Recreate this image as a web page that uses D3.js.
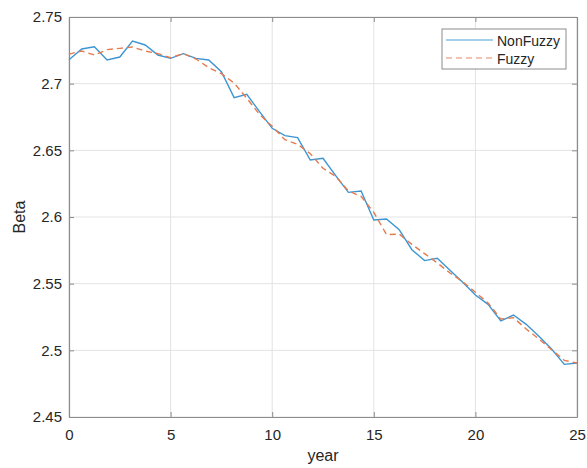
<!DOCTYPE html>
<html>
<head>
<meta charset="utf-8">
<script src="https://cdn.jsdelivr.net/npm/d3@7"></script>
<style>
  body { margin: 0; background: #fff; }
  svg { display: block; font-family: "Liberation Sans", Arial, sans-serif; }
</style>
</head>
<body>
<svg id="chart" width="587" height="468"></svg>
<script>
const years = [0, 0.625, 1.25, 1.875, 2.5, 3.125, 3.75, 4.375, 5, 5.625, 6.25, 6.875, 7.5, 8.125, 8.75, 9.375, 10, 10.625, 11.25, 11.875, 12.5, 13.125, 13.75, 14.375, 15, 15.625, 16.25, 16.875, 17.5, 18.125, 18.75, 19.375, 20, 20.625, 21.25, 21.875, 22.5, 23.125, 23.75, 24.375, 25];
const nonFuzzy = [2.718, 2.726, 2.7277, 2.7178, 2.720, 2.732, 2.729, 2.7215, 2.719, 2.7225, 2.719, 2.7178, 2.709, 2.6895, 2.692, 2.679, 2.6665, 2.661, 2.6595, 2.6427, 2.644, 2.631, 2.6185, 2.6195, 2.5977, 2.5985, 2.5905, 2.5755, 2.5673, 2.569, 2.560, 2.551, 2.5415, 2.5345, 2.522, 2.5265, 2.5195, 2.5105, 2.501, 2.4895, 2.4905];
const fuzzy = [2.7222, 2.7245, 2.7215, 2.7255, 2.7265, 2.7275, 2.7245, 2.7225, 2.7195, 2.7225, 2.7185, 2.712, 2.7075, 2.7005, 2.689, 2.677, 2.668, 2.658, 2.6545, 2.6475, 2.6365, 2.6305, 2.6195, 2.6155, 2.6035, 2.5868, 2.5872, 2.5795, 2.5725, 2.5655, 2.558, 2.5515, 2.5435, 2.5355, 2.5235, 2.5245, 2.516, 2.5085, 2.5005, 2.4925, 2.4905];
const xTicks = [0, 5, 10, 15, 20, 25];
const yTicks = [2.45, 2.5, 2.55, 2.6, 2.65, 2.7, 2.75];
const seriesNames = ["NonFuzzy", "Fuzzy"];

const svg = d3.select("#chart");
const L = 69, R = 577, T = 17, B = 417;
const x = d3.scaleLinear().domain([0, 25]).range([L, R]);
const y = d3.scaleLinear().domain([2.45, 2.75]).range([B, T]);
const textColor = "#262626";
const axisColor = "#8c8c8c";

// grid
const grid = svg.append("g");
grid.selectAll("line.vx").data(xTicks).join("line")
  .attr("x1", d => x(d)).attr("x2", d => x(d)).attr("y1", T).attr("y2", B)
  .attr("stroke", "#e3e3e3").attr("stroke-width", 1);
grid.selectAll("line.hy").data(yTicks).join("line")
  .attr("y1", d => y(d)).attr("y2", d => y(d)).attr("x1", L).attr("x2", R)
  .attr("stroke", "#e3e3e3").attr("stroke-width", 1);

// axes
const fmtY = d => d3.format("")(+d.toFixed(2));
const xAxisB = d3.axisBottom(x).tickValues(xTicks).tickSizeInner(-5).tickSizeOuter(0).tickPadding(12);
const xAxisT = d3.axisTop(x).tickValues(xTicks).tickSizeInner(-5).tickSizeOuter(0).tickFormat("");
const yAxisL = d3.axisLeft(y).tickValues(yTicks).tickSizeInner(-5).tickSizeOuter(0).tickPadding(7).tickFormat(fmtY);
const yAxisR = d3.axisRight(y).tickValues(yTicks).tickSizeInner(-5).tickSizeOuter(0).tickFormat("");

function styleAxis(g) {
  g.select(".domain").attr("stroke", axisColor).attr("stroke-width", 1.2);
  g.selectAll(".tick line").attr("stroke", axisColor);
  g.selectAll(".tick text").attr("fill", textColor).attr("font-size", 15)
    .attr("font-family", "'Liberation Sans', Arial, sans-serif");
}
svg.append("g").attr("transform", `translate(0,${B})`).call(xAxisB).call(styleAxis);
svg.append("g").attr("transform", `translate(0,${T})`).call(xAxisT).call(styleAxis);
svg.append("g").attr("transform", `translate(${L},0)`).call(yAxisL).call(styleAxis);
svg.append("g").attr("transform", `translate(${R},0)`).call(yAxisR).call(styleAxis);

// lines
const line = d3.line().x((d, i) => x(years[i])).y(d => y(d));
svg.append("path").datum(nonFuzzy).attr("d", line)
  .attr("fill", "none").attr("stroke", "#3d96d3").attr("stroke-width", 1.4);
svg.append("path").datum(fuzzy).attr("d", line)
  .attr("fill", "none").attr("stroke", "#e47a4e").attr("stroke-width", 1.4)
  .attr("stroke-dasharray", "6,4");

// labels
svg.append("text").attr("x", (L + R) / 2).attr("y", 461).attr("text-anchor", "middle")
  .attr("fill", textColor).attr("font-size", 16).text("year");
svg.append("text").attr("transform", `translate(25,${(T + B) / 2}) rotate(-90)`)
  .attr("text-anchor", "middle").attr("fill", textColor).attr("font-size", 16).text("Beta");

// legend
const lg = svg.append("g");
lg.append("rect").attr("x", 442).attr("y", 29).attr("width", 124).attr("height", 40)
  .attr("fill", "#fff").attr("stroke", "#8c8c8c").attr("stroke-width", 1);
const legColors = ["#4a9fd6", "#e48a66"];
const legDash = [null, "6,4"];
seriesNames.forEach((name, i) => {
  const yy = 40 + i * 18;
  lg.append("line").attr("x1", 446).attr("x2", 493).attr("y1", yy).attr("y2", yy)
    .attr("stroke", legColors[i]).attr("stroke-width", 1.2).attr("stroke-dasharray", legDash[i]);
  lg.append("text").attr("x", 497).attr("y", yy + 5.5).attr("fill", textColor)
    .attr("font-size", 14).text(name);
});
</script>
</body>
</html>
